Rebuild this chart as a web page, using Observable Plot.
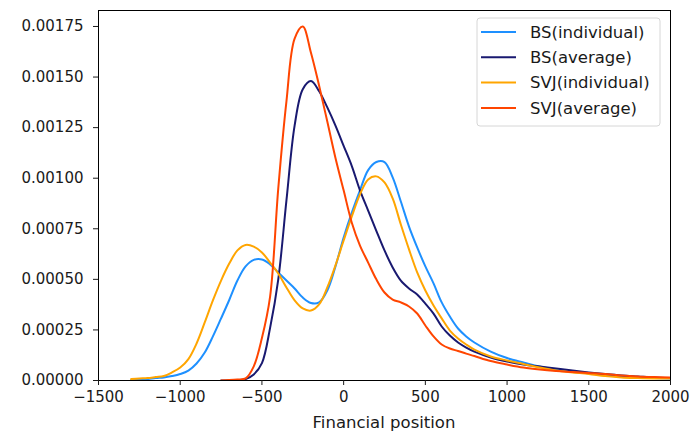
<!DOCTYPE html>
<html>
<head>
<meta charset="utf-8">
<script src="https://cdn.jsdelivr.net/npm/d3@7"></script>
<script src="https://cdn.jsdelivr.net/npm/@observablehq/plot@0.6"></script>
<style>
  body { margin: 0; background: #fff; }
  #chart svg { display: block; }
</style>
</head>
<body>
<div id="chart"></div>
<script>
// Evaluation grid for the density estimates (financial position)
const positions = [
  -1300, -1250, -1200, -1150, -1100, -1050, -1000, -950, -900, -850, -800, -750,
  -700, -650, -600, -550, -500, -450, -400, -350, -300, -250, -200, -150, -100, -50,
  0, 50, 100, 150, 200, 250, 300, 350, 400, 450, 500, 550, 600, 650, 700, 750, 800,
  900, 1000, 1100, 1200, 1300, 1400, 1500, 1600, 1700, 1800, 1900, 2000
];

// Density of each strategy on that grid (null = outside the estimate's support)
const bsIndividual = [
  0.000002, 0.000005, 0.000007, 0.000012, 0.000015, 0.000022, 0.000032, 0.000049, 0.000084, 0.000138, 0.000218, 0.000307,
  0.000398, 0.000494, 0.000564, 0.000596, 0.000598, 0.000574, 0.000534, 0.000494, 0.000455, 0.00041, 0.000383, 0.000386, 0.000445, 0.000564,
  0.000707, 0.00083, 0.00094, 0.00104, 0.00108, 0.00108, 0.001004, 0.000885, 0.000761, 0.000658, 0.000564, 0.00048, 0.000386, 0.000316, 0.000257, 0.000218, 0.000188,
  0.000143, 0.000111, 0.000089, 0.000069, 0.000054, 0.000042, 0.000035, 0.000025, 0.00002, 0.000015, 0.000012, 0.00001
];
const bsAverage = [
  null, null, null, null, null, null, null, null, null, null, null, 0,
  0.000001, 0.000002, 0.000007, 0.00003, 0.000086, 0.00026, 0.0005, 0.00089, 0.00126, 0.00144, 0.00148, 0.00143, 0.00135, 0.00126,
  0.00116, 0.00106, 0.00094, 0.00084, 0.00074, 0.000643, 0.000559, 0.000494, 0.000455, 0.000425, 0.00038, 0.000331, 0.000267, 0.000222, 0.000188, 0.000163, 0.000143,
  0.000114, 0.000094, 0.000079, 0.000069, 0.000059, 0.000049, 0.00004, 0.000032, 0.000025, 0.00002, 0.000015, 0.000012
];
const svjIndividual = [
  0.000007, 0.00001, 0.000012, 0.000017, 0.000022, 0.00004, 0.000064, 0.000106, 0.000183, 0.000287, 0.000396, 0.000494,
  0.000578, 0.000643, 0.00067, 0.000662, 0.000633, 0.000583, 0.000529, 0.00046, 0.000396, 0.000356, 0.000346, 0.000376, 0.00046, 0.000569,
  0.000692, 0.000811, 0.00092, 0.000994, 0.001009, 0.000979, 0.0009, 0.000771, 0.000648, 0.000534, 0.000445, 0.000371, 0.000307, 0.000247, 0.000208, 0.000178, 0.000153,
  0.000119, 0.000099, 0.000082, 0.000064, 0.000049, 0.00004, 0.000032, 0.000022, 0.000015, 0.000012, 0.00001, 0.00001
];
const svjAverage = [
  null, null, null, null, null, null, null, null, null, null, null, 0,
  0.000002, 0.000005, 0.00001, 0.00007, 0.00021, 0.000415, 0.00095, 0.00138, 0.00169, 0.00175, 0.00162, 0.001457, 0.00128, 0.0011,
  0.00094, 0.00078, 0.000667, 0.000583, 0.0005, 0.000435, 0.0004, 0.000386, 0.000366, 0.000331, 0.000272, 0.000218, 0.000178, 0.000158, 0.000146, 0.000133, 0.000121,
  0.000096, 0.000079, 0.000064, 0.000054, 0.000047, 0.000042, 0.000037, 0.000032, 0.000025, 0.00002, 0.000017, 0.000015
];

const seriesNames = ["BS(individual)", "BS(average)", "SVJ(individual)", "SVJ(average)"];
const seriesColors = ["#1e90ff", "#191970", "#ffa500", "#ff4500"];
const xTicks = [-1500, -1000, -500, 0, 500, 1000, 1500, 2000];
const yTicks = [0, 0.00025, 0.0005, 0.00075, 0.001, 0.00125, 0.0015, 0.00175];
const xLabel = "Financial position";

const seriesValues = [bsIndividual, bsAverage, svjIndividual, svjAverage];
const rows = seriesValues.map((vals, i) =>
  positions.map((x, j) => ({ x, y: vals[j], name: seriesNames[i] }))
);

const W = 693, H = 436;
const M = { left: 98, right: 23, top: 10, bottom: 56 };
const minus = (d) => (d < 0 ? "\u2212" + Math.abs(d) : String(d));

const chart = Plot.plot({
  width: W,
  height: H,
  marginLeft: M.left,
  marginRight: M.right,
  marginTop: M.top,
  marginBottom: M.bottom,
  style: { fontFamily: "DejaVu Sans, sans-serif", fontSize: "15px", color: "#1a1a1a", background: "#fff" },
  x: { domain: [-1500, 2000] },
  y: { domain: [0, 0.001829] },
  marks: [
    ...rows.map((data, i) =>
      Plot.line(data, {
        x: "x", y: "y",
        stroke: seriesColors[i],
        strokeWidth: 2,
        curve: "catmull-rom",
        clip: true
      })
    ),
    Plot.frame({ stroke: "#000", strokeWidth: 1 }),
    Plot.axisX({ ticks: xTicks, tickFormat: minus, tickSize: 5, tickPadding: 6, label: null }),
    Plot.axisY({ ticks: yTicks, tickFormat: d3.format(".5f"), tickSize: 5, tickPadding: 10, label: null })
  ]
});

document.getElementById("chart").appendChild(chart);

// Axis title and legend box
const svg = d3.select(chart);
svg.append("text")
  .attr("x", (M.left + W - M.right) / 2)
  .attr("y", 428)
  .attr("text-anchor", "middle")
  .attr("font-family", "DejaVu Sans, sans-serif")
  .attr("font-size", 16.5)
  .attr("fill", "#1a1a1a")
  .text(xLabel);

const legend = svg.append("g").attr("text-anchor", "start");
legend.append("rect")
  .attr("x", 477).attr("y", 18)
  .attr("width", 183).attr("height", 108)
  .attr("rx", 3)
  .attr("fill", "#fff").attr("fill-opacity", 0.8)
  .attr("stroke", "#d6d6d6");
seriesNames.forEach((name, i) => {
  const cy = 32 + i * 25.3;
  legend.append("line")
    .attr("x1", 481).attr("x2", 516)
    .attr("y1", cy).attr("y2", cy)
    .attr("stroke", seriesColors[i]).attr("stroke-width", 2);
  legend.append("text")
    .attr("x", 530).attr("y", cy)
    .attr("dy", "0.35em")
    .attr("text-anchor", "start")
    .attr("font-family", "DejaVu Sans, sans-serif")
    .attr("font-size", 16.5)
    .attr("fill", "#1a1a1a")
    .text(name);
});
</script>
</body>
</html>
